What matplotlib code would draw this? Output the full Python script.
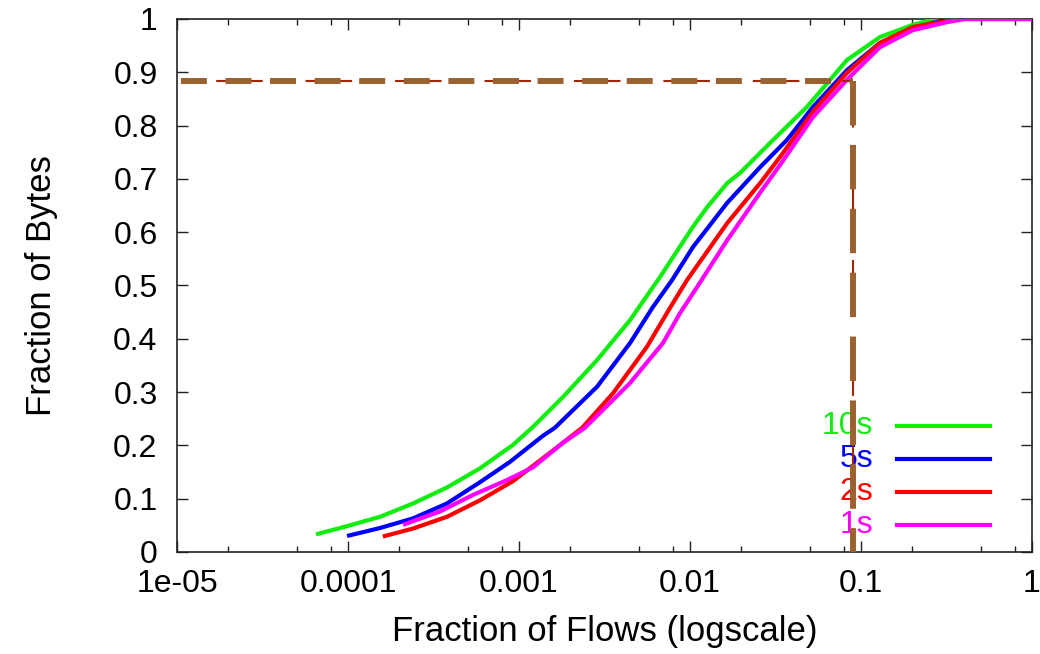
import matplotlib
matplotlib.use("Agg")
import matplotlib.pyplot as plt
from matplotlib.ticker import FixedLocator, NullFormatter

plt.rcParams["font.family"] = ["Liberation Sans", "DejaVu Sans"]
plt.rcParams["lines.scale_dashes"] = False

# ── data ──────────────────────────────────────────────────────────────────
flows_10s = [6.5e-5, 1.0e-4, 1.54e-4, 2.40e-4, 3.79e-4, 5.92e-4, 9.23e-4, 1.21e-3,
             1.81e-3, 2.86e-3, 4.46e-3, 6.68e-3, 1.04e-2, 1.26e-2, 1.65e-2, 1.96e-2,
             3.06e-2, 4.83e-2, 8.28e-2, 0.129, 0.201, 0.271, 1.0]
bytes_10s = [0.033, 0.049, 0.066, 0.091, 0.121, 0.157, 0.201, 0.235,
             0.291, 0.360, 0.435, 0.516, 0.610, 0.647, 0.692, 0.711,
             0.773, 0.835, 0.923, 0.966, 0.989, 1.0, 1.0]

flows_5s = [9.87e-5, 1.54e-4, 2.40e-4, 3.79e-4, 5.92e-4, 8.85e-4, 1.38e-3, 1.62e-3,
            2.86e-3, 4.46e-3, 6.08e-3, 7.85e-3, 1.04e-2, 1.65e-2, 2.57e-2, 3.69e-2,
            5.24e-2, 8.28e-2, 0.129, 0.201, 0.290, 0.355, 1.0]
bytes_5s = [0.030, 0.045, 0.063, 0.091, 0.131, 0.169, 0.218, 0.233,
            0.310, 0.392, 0.460, 0.510, 0.572, 0.655, 0.722, 0.773,
            0.835, 0.904, 0.955, 0.983, 0.996, 1.0, 1.0]

flows_2s = [1.60e-4, 2.40e-4, 3.79e-4, 5.92e-4, 9.23e-4, 1.46e-3, 2.34e-3, 3.55e-3,
            5.60e-3, 7.64e-3, 9.60e-3, 1.65e-2, 2.57e-2, 3.36e-2, 5.24e-2, 8.28e-2,
            0.129, 0.201, 0.318, 0.379, 1.0]
bytes_2s = [0.029, 0.044, 0.066, 0.097, 0.133, 0.182, 0.233, 0.298,
            0.385, 0.458, 0.510, 0.617, 0.692, 0.741, 0.826, 0.899,
            0.955, 0.985, 0.996, 1.0, 1.0]

flows_1s = [2.10e-4, 3.45e-4, 5.38e-4, 8.51e-4, 1.21e-3, 1.81e-3, 2.43e-3, 4.46e-3,
            6.95e-3, 8.74e-3, 1.10e-2, 1.65e-2, 2.57e-2, 3.36e-2, 5.24e-2, 8.28e-2,
            0.129, 0.201, 0.318, 0.406, 1.0]
bytes_1s = [0.051, 0.076, 0.107, 0.135, 0.159, 0.205, 0.233, 0.317,
            0.392, 0.448, 0.497, 0.585, 0.674, 0.726, 0.816, 0.886,
            0.947, 0.979, 0.994, 1.0, 1.0]

SERIES = [
    ("10s", flows_10s, bytes_10s, "#10ee10"),
    ("5s",  flows_5s,  bytes_5s,  "#0000ff"),
    ("2s",  flows_2s,  bytes_2s,  "#ff0000"),
    ("1s",  flows_1s,  bytes_1s,  "#ff00ff"),
]

CUT_X = 0.0897
CUT_Y = 0.884

X_TICKS  = [1e-5, 1e-4, 1e-3, 1e-2, 1e-1, 1]
X_LABELS = ["1e-05", "0.0001", "0.001", "0.01", "0.1", "1"]
Y_TICKS  = [0, 0.1, 0.2, 0.3, 0.4, 0.5, 0.6, 0.7, 0.8, 0.9, 1]
Y_LABELS = ["0", "0.1", "0.2", "0.3", "0.4", "0.5", "0.6", "0.7", "0.8", "0.9", "1"]

FS = 23
FS_LABEL = 25

fig = plt.figure(figsize=(10.4, 6.54), dpi=100)
ax = fig.add_axes([0.1702, 0.156, 0.8221, 0.815])

for name, xs, ys, col in SERIES:
    ax.plot(xs, ys, color=col, lw=3.0, solid_joinstyle="round",
            solid_capstyle="butt", zorder=3)

# ── legend, gnuplot style (label then sample line) ─────────────────────
leg_rows = [0.236, 0.174, 0.112, 0.050]
for (name, xs, ys, col), ry in zip(SERIES, leg_rows):
    ax.text(0.814, ry, name, color=col, fontsize=FS, ha="right", va="center",
            transform=ax.transAxes, zorder=4)
    ax.plot([0.842, 0.951], [ry, ry], color=col, lw=3.0,
            transform=ax.transAxes, zorder=4)

# ── cut-off guide lines ────────────────────────────────────────────────
ax.plot([1e-5, CUT_X], [CUT_Y, CUT_Y], color="#a02800", lw=1.5,
        linestyle=(36.2, (33.5, 30.9)), dash_capstyle="butt", zorder=5)
ax.plot([1e-5, CUT_X], [CUT_Y, CUT_Y], color="#9c6130", lw=4.3,
        linestyle=(29.3, (18.7, 13.4)), dash_capstyle="butt", zorder=6)
ax.plot([CUT_X, CUT_X], [CUT_Y, 0], color="#a02800", lw=1.5,
        linestyle=(0, (33.5, 30.9)), dash_capstyle="butt", zorder=5)
ax.plot([CUT_X, CUT_X], [CUT_Y, 0], color="#9c6130", lw=4.3,
        linestyle=(0, (32, 14)), dash_capstyle="butt", zorder=6)

ax.set_xscale("log")
ax.set_xlim(1e-5, 1)
ax.set_ylim(0, 1)

ax.xaxis.set_major_locator(FixedLocator(X_TICKS))
ax.set_xticklabels(X_LABELS)
minor = [m * d for d in [1e-5, 1e-4, 1e-3, 1e-2, 1e-1] for m in (2, 5, 8)]
ax.xaxis.set_minor_locator(FixedLocator(minor))
ax.xaxis.set_minor_formatter(NullFormatter())
ax.set_yticks(Y_TICKS)
ax.set_yticklabels(Y_LABELS)

ax.tick_params(which="both", direction="in", top=True, right=True,
               labelsize=FS, color="#222222", width=1)
ax.tick_params(which="major", length=8)
ax.tick_params(which="minor", length=4)
ax.tick_params(axis="y", pad=14)
ax.tick_params(axis="x", pad=12)

for sp in ax.spines.values():
    sp.set_linewidth(1.2)
    sp.set_color("#222222")

ax.set_xlabel("Fraction of Flows (logscale)", fontsize=FS_LABEL, labelpad=12)
ax.set_ylabel("Fraction of Bytes", fontsize=FS_LABEL, labelpad=40)

fig.savefig("out.png", dpi=100)
